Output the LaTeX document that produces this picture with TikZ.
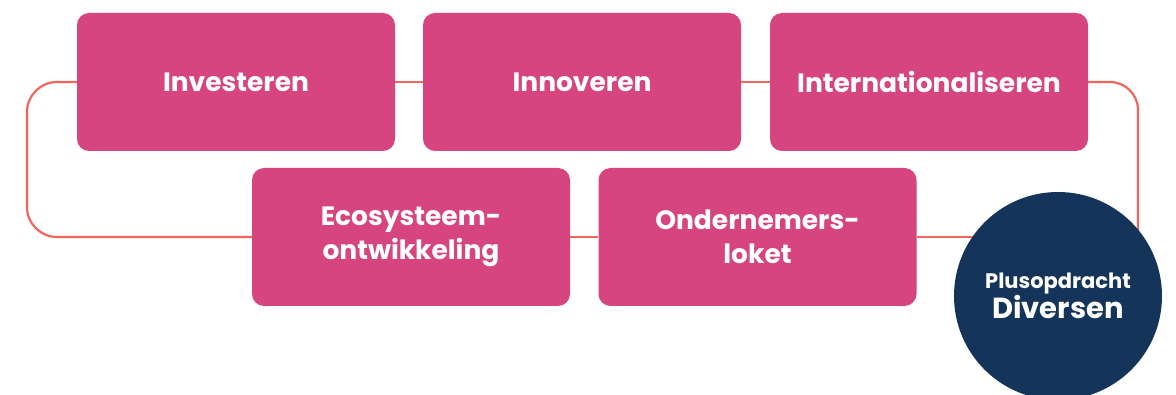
\documentclass[tikz,border=0pt]{standalone}
\usepackage{fontspec}
\setmainfont{Poppins}
\usetikzlibrary{backgrounds}
\definecolor{boxpink}{RGB}{214,69,128}
\definecolor{navy}{RGB}{20,52,90}
\definecolor{coral}{RGB}{238,102,92}
\begin{document}
\begin{tikzpicture}[x=1pt,y=-1pt,
  pbox/.style={rectangle, rounded corners=12pt, fill=boxpink, minimum width=318pt, minimum height=138pt,
    text=white, font=\fontsize{26.5}{34}\selectfont\bfseries, align=center, inner sep=0pt},
  conn/.style={draw=coral, line width=2.2pt},
  hub/.style={circle, fill=navy, minimum size=208pt, inner sep=0pt, text=white, align=center}]
\clip (0,0) rectangle (1176,395);
\node[pbox] (inv) at (236,82) {Investeren};
\node[pbox] (inn) at (582,82) {Innoveren};
\node[pbox] (int) at (929,82) {Internationaliseren};
\node[pbox] (eco) at (411,237) {Ecosysteem-\\ontwikkeling};
\node[pbox] (ond) at (757.5,237) {Ondernemers-\\loket};
\node[hub] (div) at (1058,296) {{\fontsize{21}{24}\selectfont\bfseries Plusopdracht}\\[0pt]{\fontsize{29}{30}\selectfont\bfseries Diversen}};
\coordinate (rc) at (1138,260);
\coordinate (lc) at (27,160);
\begin{pgfonlayer}{background}
\fill[white] (0,0) rectangle (1176,395);
\draw[conn, rounded corners=28pt] (rc) |- (int.east);
\draw[conn] (int.west) -- (inn.east);
\draw[conn] (inn.west) -- (inv.east);
\draw[conn, rounded corners=30pt] (inv.west) -| (lc) |- (eco.west);
\draw[conn] (eco.east) -- (ond.west);
\draw[conn] (ond.east) -- (ond.east -| div.center);
\end{pgfonlayer}
\end{tikzpicture}
\end{document}
